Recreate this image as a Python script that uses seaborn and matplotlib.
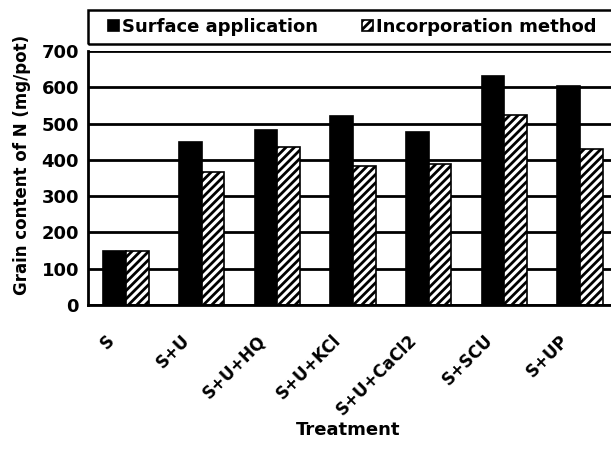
import pandas as pd
import matplotlib.pyplot as plt
import matplotlib.transforms as mtransforms
from matplotlib.patches import Rectangle
import seaborn as sns

# data
treatments = ['S', 'S+U', 'S+U+HQ', 'S+U+KCl', 'S+U+CaCl2', 'S+SCU', 'S+UP']
surface = [150, 450, 483, 520, 478, 632, 603]
incorporation = [150, 366, 435, 382, 388, 525, 430]
methods = ['Surface application', 'Incorporation method']
y_ticks = [0, 100, 200, 300, 400, 500, 600, 700]

df = pd.DataFrame({
    'Treatment': treatments * 2,
    'Method': [methods[0]] * len(treatments) + [methods[1]] * len(treatments),
    'N': surface + incorporation,
})

sns.set_style("white")
plt.rcParams['font.family'] = ['DejaVu Sans']
plt.rcParams['font.weight'] = 'bold'
plt.rcParams['text.color'] = 'black'
plt.rcParams['axes.labelcolor'] = 'black'
plt.rcParams['xtick.color'] = 'black'
plt.rcParams['ytick.color'] = 'black'
plt.rcParams['hatch.linewidth'] = 2.0

FS = 13

fig = plt.figure(figsize=(6.11, 4.49), dpi=100)
ax = fig.add_axes([0.144, 0.3207, 0.8674, 0.5657])

sns.barplot(data=df, x='Treatment', y='N', hue='Method', palette=['black', 'white'],
            edgecolor='black', linewidth=1.2, width=0.6, ax=ax, legend=True)
for bar in ax.containers[1]:
    bar.set_hatch('////')

ax.set_ylim(0, 700)
ax.set_xlim(-0.5, 6.5)
ax.set_yticks(y_ticks)
ax.set_yticklabels([str(v) for v in y_ticks], fontsize=FS, fontweight='bold')
ax.yaxis.grid(True, color='black', linewidth=2)
ax.set_axisbelow(True)

# category labels without marks, boundary marks without labels
ax.set_xticks(range(len(treatments)))
ax.set_xticklabels(treatments, rotation=45, ha='right', va='top', rotation_mode='anchor',
                   fontsize=FS - 1, fontweight='bold')
ax.tick_params(axis='x', which='major', length=0, pad=19)
shift = mtransforms.ScaledTranslation(-21 / 100, 0, fig.dpi_scale_trans)
for lab in ax.get_xticklabels():
    lab.set_transform(lab.get_transform() + shift)
ax.set_xticks([i - 0.5 for i in range(len(treatments) + 1)], minor=True)
ax.tick_params(axis='x', which='minor', length=5, width=1.8, color='black', direction='out')
ax.tick_params(axis='y', length=6, width=1.8, color='black', direction='out', pad=0.5)

for side in ['top', 'right']:
    ax.spines[side].set_visible(False)
for side in ['left', 'bottom']:
    ax.spines[side].set_linewidth(2)
    ax.spines[side].set_color('black')

ax.set_xlabel('Treatment', fontsize=FS, fontweight='bold')
ax.xaxis.set_label_coords(0.49, -0.455)
ax.set_ylabel('Grain content of N (mg/pot)', fontsize=FS - 1, fontweight='bold')
ax.yaxis.set_label_coords(-0.108, 0.55)

# legend in a box across the top
handles, labels = ax.get_legend_handles_labels()
handles[1].set_hatch('////')
ax.legend(handles, labels, ncol=2, loc='center left',
          bbox_to_anchor=(108 / 611, 1 - 27 / 449), bbox_transform=fig.transFigure,
          frameon=False, handlelength=0.6, handleheight=0.6, handletextpad=0.2,
          columnspacing=2.4, borderaxespad=0, borderpad=0,
          prop={'weight': 'bold', 'size': FS})
fig.patches.append(Rectangle((88 / 611, 1 - 44 / 449), 0.9, 34 / 449,
                             transform=fig.transFigure, fill=False,
                             edgecolor='black', linewidth=1.8))

fig.savefig('out.png', dpi=100)
